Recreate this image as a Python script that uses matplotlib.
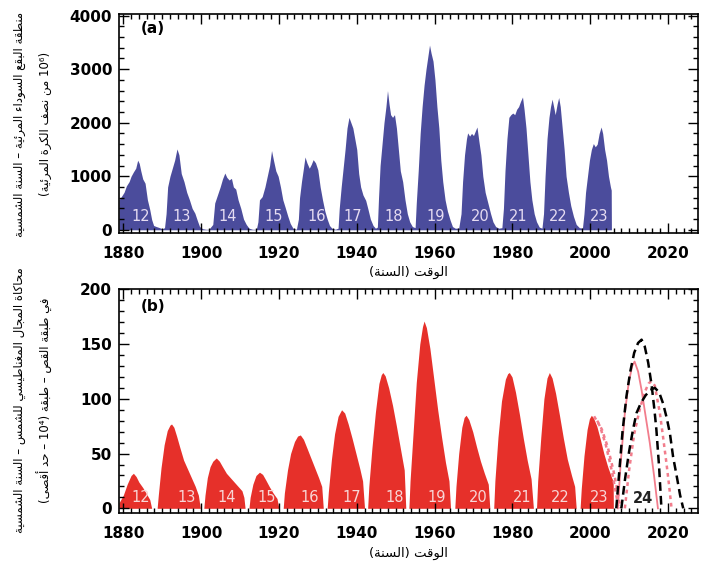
# منحنيات الدورة الشمسية (a) و (b)

import re
import unicodedata
import matplotlib
matplotlib.use("Agg")
import matplotlib.pyplot as plt
from matplotlib.ticker import MultipleLocator

# ==============================
# DATOS
# ==============================
# (a) área de manchas por rotación
year_a = [1878.9, 1879.5, 1880.2, 1880.8, 1881.5, 1882.0, 1882.6, 1883.2, 1883.7, 1884.1, 1884.5, 1885.0, 1885.6,
          1886.2, 1886.8, 1887.3, 1887.8, 1888.5, 1889.3, 1890.0, 1890.6,
          1891.0, 1891.4, 1892.0, 1892.6, 1893.2, 1893.8, 1894.3, 1894.9, 1895.6, 1896.3, 1897.0, 1897.7, 1898.4,
          1899.0, 1899.6, 1900.4, 1901.2, 1902.0,
          1903.0, 1903.5, 1904.2, 1904.9, 1905.5, 1906.1, 1906.6, 1907.2, 1907.8, 1908.3, 1908.9, 1909.5, 1910.2,
          1910.9, 1911.6, 1912.3, 1913.2, 1914.2,
          1914.6, 1915.0, 1915.7, 1916.4, 1917.0, 1917.6, 1918.1, 1918.6, 1919.2, 1919.8, 1920.4, 1921.0, 1921.6,
          1922.3, 1922.9, 1923.6, 1924.5,
          1925.0, 1925.3, 1925.8, 1926.3, 1926.7, 1927.2, 1927.8, 1928.3, 1928.8, 1929.4, 1930.0, 1930.6, 1931.2,
          1931.8, 1932.4, 1933.0, 1933.6, 1934.5, 1935.2,
          1935.5, 1936.0, 1936.5, 1937.0, 1937.5, 1938.0, 1938.5, 1939.0, 1939.5, 1940.0, 1940.5, 1941.0, 1941.6,
          1942.3, 1942.9, 1943.5, 1944.2, 1944.8, 1945.3,
          1945.6, 1946.0, 1946.5, 1947.0, 1947.5, 1947.9, 1948.3, 1948.7, 1949.2, 1949.7, 1950.2, 1950.7, 1951.2,
          1951.8, 1952.4, 1953.0, 1953.6, 1954.3, 1955.0,
          1955.3, 1955.8, 1956.3, 1956.8, 1957.3, 1957.8, 1958.3, 1958.7, 1959.1, 1959.6, 1960.1, 1960.6, 1961.1,
          1961.6, 1962.1, 1962.7, 1963.3, 1964.0, 1964.6, 1965.3, 1966.2,
          1966.8, 1967.2, 1967.7, 1968.2, 1968.5, 1969.0, 1969.5, 1970.0, 1970.5, 1970.9, 1971.4, 1971.9, 1972.4,
          1973.0, 1973.7, 1974.4, 1975.0, 1975.7, 1976.5, 1977.3,
          1977.7, 1978.1, 1978.6, 1979.1, 1979.6, 1980.1, 1980.6, 1981.1, 1981.6, 1982.1, 1982.6, 1983.0, 1983.5,
          1984.0, 1984.5, 1985.0, 1985.6, 1986.2, 1986.9, 1987.6,
          1988.0, 1988.4, 1988.9, 1989.4, 1989.8, 1990.2, 1990.6, 1991.0, 1991.5, 1991.9, 1992.3, 1992.8, 1993.3,
          1993.8, 1994.4, 1995.0, 1995.7, 1996.4, 1997.2, 1998.0,
          1998.4, 1998.8, 1999.3, 1999.8, 2000.3, 2000.8, 2001.3, 2001.8, 2002.3, 2002.8, 2003.2, 2003.7, 2004.2,
          2004.7, 2005.2, 2005.4, 2005.45]
area_a = [560, 620, 700, 820, 900, 1000, 1080, 1150, 1300, 1240, 1100, 950, 870,
          560, 380, 190, 80, 60, 40, 20, 40,
          300, 800, 1000, 1150, 1300, 1510, 1400, 1050, 900, 700, 560, 400, 310,
          180, 60, 20, 10, 10,
          100, 500, 650, 800, 950, 1060, 980, 930, 960, 800, 760, 560, 400,
          200, 100, 30, 10, 10,
          150, 560, 620, 800, 1000, 1200, 1480, 1300, 1100, 1000, 800, 560, 420,
          250, 120, 30, 10,
          200, 600, 900, 1150, 1360, 1250, 1150, 1220, 1310, 1250, 1120, 800, 560,
          350, 200, 80, 30, 10, 30,
          400, 800, 1150, 1500, 1900, 2100, 2000, 1900, 1700, 1500, 1050, 800, 650,
          550, 380, 200, 80, 30, 50,
          600, 1200, 1600, 2000, 2300, 2600, 2350, 2150, 2100, 2150, 1900, 1500, 1100,
          900, 560, 300, 150, 60, 40,
          500, 1100, 1800, 2300, 2700, 3000, 3250, 3450, 3300, 3150, 2800, 2300, 1900,
          1300, 900, 560, 350, 180, 60, 30, 30,
          300, 900, 1400, 1700, 1810, 1750, 1800, 1760, 1850, 1920, 1650, 1400, 1000,
          700, 500, 300, 150, 60, 30, 40,
          400, 1100, 1700, 2100, 2150, 2180, 2150, 2250, 2300, 2400, 2480, 2250, 1900,
          1400, 900, 560, 300, 150, 50, 30,
          300, 1000, 1700, 2100, 2300, 2440, 2300, 2150, 2350, 2470, 2300, 1900, 1500,
          1000, 700, 450, 250, 100, 40, 30,
          300, 700, 1000, 1300, 1500, 1610, 1550, 1600, 1800, 1920, 1800, 1500, 1300,
          1000, 800, 740, 0]

# (b) محاكاة المجال المغناطيسي
year_b = [1878.9, 1880.0, 1881.0, 1882.0, 1882.6, 1883.3, 1884.0, 1885.0, 1886.0, 1886.8, 1887.3,
          1888.7, 1889.0, 1889.7, 1890.5, 1891.3, 1892.0, 1892.4, 1893.0, 1893.7, 1894.5, 1895.5, 1896.5,
          1897.5, 1898.5, 1899.3, 1899.8,
          1900.7, 1901.0, 1901.6, 1902.3, 1903.0, 1903.9, 1904.7, 1905.5, 1906.5, 1907.5, 1908.5, 1909.5,
          1910.5, 1911.0, 1911.3,
          1912.3, 1912.6, 1913.3, 1914.1, 1915.0, 1915.8, 1916.6, 1917.5, 1918.5, 1919.5, 1920.0,
          1921.1, 1921.4, 1922.2, 1923.0, 1924.0, 1924.8, 1925.5, 1926.3, 1927.2, 1928.2, 1929.2, 1930.2,
          1931.0, 1931.4,
          1932.4, 1932.7, 1933.5, 1934.3, 1935.2, 1936.1, 1936.9, 1937.8, 1938.8, 1939.8, 1940.8, 1941.5, 1942.0,
          1942.8, 1943.1, 1943.9, 1944.8, 1945.7, 1946.3, 1946.7, 1947.3, 1948.2, 1949.2, 1950.2, 1951.2,
          1952.2, 1952.6,
          1953.4, 1953.7, 1954.5, 1955.3, 1956.2, 1956.9, 1957.3, 1957.9, 1958.8, 1959.8, 1960.8, 1961.8,
          1962.8, 1963.7, 1964.1,
          1965.2, 1965.5, 1966.2, 1967.0, 1967.6, 1968.1, 1968.8, 1969.8, 1970.8, 1971.8, 1972.8, 1973.8, 1974.2,
          1975.2, 1975.5, 1976.3, 1977.2, 1978.2, 1978.8, 1979.2, 1979.9, 1980.8, 1981.8, 1982.8, 1983.8,
          1984.8, 1985.4,
          1986.2, 1986.5, 1987.3, 1988.1, 1988.9, 1989.5, 1990.2, 1991.1, 1992.1, 1993.1, 1994.1, 1995.2,
          1996.0, 1996.4,
          1997.4, 1997.7, 1998.4, 1999.2, 1999.8, 2000.3, 2000.9, 2001.7, 2002.6, 2003.5, 2004.5, 2005.5,
          2005.9, 2005.95]
field_b = [5, 12, 22, 30, 32, 29, 24, 19, 13, 8, 0,
           0, 12, 37, 58, 71, 76, 77, 74, 66, 56, 44, 36,
           28, 20, 12, 0,
           0, 12, 28, 38, 43, 46, 43, 38, 32, 28, 24, 20,
           16, 10, 0,
           0, 10, 22, 30, 33, 31, 26, 20, 14, 9, 0,
           0, 14, 35, 50, 61, 66, 67, 63, 55, 46, 37, 28,
           20, 0,
           0, 15, 45, 68, 84, 90, 87, 77, 64, 50, 36, 25, 0,
           0, 20, 55, 88, 114, 122, 124, 121, 110, 94, 75, 55,
           35, 0,
           0, 25, 70, 115, 150, 166, 171, 165, 146, 118, 90, 65,
           42, 25, 0,
           0, 20, 50, 74, 83, 85, 81, 70, 56, 43, 32, 22, 0,
           0, 25, 65, 98, 118, 123, 124, 120, 106, 86, 64, 44,
           27, 0,
           0, 25, 65, 100, 119, 124, 119, 105, 85, 64, 45, 30,
           20, 0,
           0, 18, 48, 72, 82, 85, 82, 75, 63, 50, 38, 28,
           25, 0]

# توقعات الدورة 24
pred_k1_yr = [2006.7, 2007.5, 2008.3, 2009.3, 2010.3, 2011.3, 2012.3, 2013.2, 2014.0, 2014.9, 2015.8, 2016.5,
              2017.0, 2017.7, 2018.3]
pred_k1_val = [0, 35, 70, 102, 125, 142, 151, 154, 148, 133, 112, 90, 72, 38, 0]
pred_k2_yr = [2008.0, 2009.0, 2010.0, 2011.0, 2011.9, 2013.0, 2014.2, 2015.4, 2016.6, 2017.7, 2018.7, 2019.7,
              2020.5, 2021.3, 2022.3, 2023.1, 2023.9]
pred_k2_val = [0, 28, 52, 72, 87, 96, 103, 108, 110, 106, 96, 82, 68, 47, 28, 12, 0]
pred_p1_yr = [2007.1, 2007.8, 2008.9, 2009.9, 2010.8, 2011.4, 2012.3, 2013.2, 2014.2, 2015.3, 2016.4, 2017.4]
pred_p1_val = [0, 40, 87, 115, 130, 134, 125, 108, 85, 60, 30, 0]
pred_p2_yr = [2008.9, 2010.0, 2011.3, 2012.7, 2014.0, 2015.0, 2015.7, 2016.6, 2017.9, 2018.8, 2019.6,
              2020.3, 2020.9]
pred_p2_val = [0, 35, 68, 90, 106, 114, 116, 112, 87, 63, 41, 20, 0]
tail_1_yr = [2001.0, 2002.5, 2004.0, 2005.5, 2006.5, 2007.3]
tail_1_val = [84, 75, 58, 35, 16, 0]
tail_2_yr = [2001.8, 2003.0, 2004.5, 2006.0, 2007.0, 2007.8]
tail_2_val = [80, 72, 56, 34, 16, 0]

# أرقام الدورات
cycles = ["12", "13", "14", "15", "16", "17", "18", "19", "20", "21", "22", "23"]
cyc_x_a = [1884.6, 1894.9, 1906.8, 1918.7, 1929.8, 1939.0, 1949.5, 1960.3, 1971.8, 1981.6, 1991.9, 2002.3]
cyc_x_b = [1884.6, 1896.2, 1906.5, 1916.8, 1928.0, 1938.8, 1949.7, 1960.5, 1971.3, 1982.6, 1992.4, 2002.3]

# ==============================
# نص عربي (تشكيل يدوي)
# ==============================
DUAL = {0x0628: 0xFE8F, 0x062A: 0xFE95, 0x062B: 0xFE99, 0x062C: 0xFE9D, 0x062D: 0xFEA1, 0x062E: 0xFEA5,
        0x0633: 0xFEB1, 0x0634: 0xFEB5, 0x0635: 0xFEB9, 0x0636: 0xFEBD, 0x0637: 0xFEC1, 0x0638: 0xFEC5,
        0x0639: 0xFEC9, 0x063A: 0xFECD, 0x0641: 0xFED1, 0x0642: 0xFED5, 0x0643: 0xFED9, 0x0644: 0xFEDD,
        0x0645: 0xFEE1, 0x0646: 0xFEE5, 0x0647: 0xFEE9, 0x064A: 0xFEF1, 0x0626: 0xFE89}
RIGHT = {0x0627: 0xFE8D, 0x0623: 0xFE83, 0x0625: 0xFE87, 0x0622: 0xFE81, 0x0629: 0xFE93, 0x062F: 0xFEA9,
         0x0630: 0xFEAB, 0x0631: 0xFEAD, 0x0632: 0xFEAF, 0x0648: 0xFEED, 0x0649: 0xFEEF, 0x0624: 0xFE85}
LAM_ALEF = {0x0627: 0xFEFB, 0x0623: 0xFEF7, 0x0625: 0xFEF9, 0x0622: 0xFEF5}
MIRROR = {"(": ")", ")": "("}


def shape(s):
    s = unicodedata.normalize("NFC", s)
    out = []
    i = 0
    while i < len(s):
        c = ord(s[i])
        prev_j = i > 0 and ord(s[i - 1]) in DUAL
        if c == 0x0644 and i + 1 < len(s) and ord(s[i + 1]) in LAM_ALEF:
            out.append(chr(LAM_ALEF[ord(s[i + 1])] + (1 if prev_j else 0)))
            i += 2
            continue
        next_j = i + 1 < len(s) and (ord(s[i + 1]) in DUAL or ord(s[i + 1]) in RIGHT)
        if c in DUAL:
            b = DUAL[c]
            out.append(chr(b + (3 if prev_j and next_j else 1 if prev_j else 2 if next_j else 0)))
        elif c in RIGHT:
            out.append(chr(RIGHT[c] + (1 if prev_j else 0)))
        else:
            out.append(s[i])
        i += 1
    return "".join(out)


def ar(s):
    runs = re.findall(r"[0-9\u2070-\u2079]+|[^0-9\u2070-\u2079]+", shape(s))
    parts = []
    for r in runs[::-1]:
        if re.match(r"[0-9\u2070-\u2079]", r):
            parts.append(r)
        else:
            parts.append("".join(MIRROR.get(ch, ch) for ch in r[::-1]))
    return "".join(parts)


ylab_a1 = "منطقة البقع السوداء المرئية – السنة الشمسية"
ylab_a2 = "(10⁶ من نصف الكرة المرئية)"
ylab_b1 = "محاكاة المجال المغناطيسي للشمس – السنة الشمسية"
ylab_b2 = "في طبقة القص – طبقة (10⁴ – حد أقصى)"
xlab = "الوقت (السنة)"

# ==============================
# FIGURA
# ==============================
BLUE = "#4b4c9c"
RED = "#e6302a"
PINK = "#f27d8c"

fig = plt.figure(figsize=(7.01, 5.71), dpi=100)
ax_a = fig.add_axes([119 / 701, 1 - 233 / 571, 579 / 701, 219 / 571])
ax_b = fig.add_axes([119 / 701, 1 - 512.7 / 571, 579 / 701, 223.4 / 571])

ax_a.fill_between(year_a, 0, area_a, color=BLUE, lw=0)
ax_a.set_ylim(-60, 4030)
ax_a.yaxis.set_major_locator(MultipleLocator(1000))
ax_a.yaxis.set_minor_locator(MultipleLocator(200))
for lab, x in zip(cycles, cyc_x_a):
    ax_a.text(x, 250, lab, color="#e6dcf2", fontsize=10.5, ha="center", va="center")
ax_a.text(0.059, 0.935, "(a)", transform=ax_a.transAxes, fontsize=11, fontweight="bold",
          ha="center", va="center")

ax_b.fill_between(year_b, 0, field_b, color=RED, lw=0)
ax_b.plot(tail_1_yr, tail_1_val, color=PINK, lw=1.8, ls=(0, (1.5, 1.5)))
ax_b.plot(tail_2_yr, tail_2_val, color=PINK, lw=1.8, ls=(0, (1.5, 1.5)))
ax_b.plot(pred_p1_yr, pred_p1_val, color=PINK, lw=1.3)
ax_b.plot(pred_p2_yr, pred_p2_val, color=PINK, lw=1.8, ls=(0, (1.5, 1.5)))
ax_b.plot(pred_k1_yr, pred_k1_val, color="black", lw=1.8, ls=(0, (3.5, 2)))
ax_b.plot(pred_k2_yr, pred_k2_val, color="black", lw=1.8, ls=(0, (3.5, 2)))
ax_b.set_ylim(-4, 200)
ax_b.yaxis.set_major_locator(MultipleLocator(50))
ax_b.yaxis.set_minor_locator(MultipleLocator(10))
for lab, x in zip(cycles, cyc_x_b):
    ax_b.text(x, 10, lab, color="#f8d6d6", fontsize=10.5, ha="center", va="center")
ax_b.text(2013.6, 9, "24", color="#222222", fontsize=10.5, fontweight="bold", ha="center", va="center")
ax_b.text(0.059, 0.925, "(b)", transform=ax_b.transAxes, fontsize=11, fontweight="bold",
          ha="center", va="center")

for ax in (ax_a, ax_b):
    ax.set_xlim(1878.9, 2027.7)
    ax.xaxis.set_major_locator(MultipleLocator(20))
    ax.xaxis.set_minor_locator(MultipleLocator(2))
    ax.tick_params(which="both", direction="in", top=True, right=True, width=1)
    ax.tick_params(which="major", length=7)
    ax.tick_params(which="minor", length=3.5)
    ax.tick_params(axis="x", pad=9.5, labelsize=11)
    ax.tick_params(axis="y", pad=5, labelsize=11)
    for t in ax.get_xticklabels() + ax.get_yticklabels():
        t.set_fontweight("bold")
    for s in ax.spines.values():
        s.set_linewidth(1.2)

# etiquetas de ejes
fig.text(408 / 701, 1 - 272 / 571, ar(xlab), fontsize=9.5, ha="center", va="center", family="DejaVu Sans")
fig.text(408 / 701, 1 - 553 / 571, ar(xlab), fontsize=9.5, ha="center", va="center", family="DejaVu Sans")
fig.text(20 / 701, 1 - 124 / 571, ar(ylab_a1), fontsize=8.5, rotation=90, ha="center", va="center",
         family="DejaVu Sans")
fig.text(45 / 701, 1 - 124 / 571, ar(ylab_a2), fontsize=8.5, rotation=90, ha="center", va="center",
         family="DejaVu Sans")
fig.text(20 / 701, 1 - 400 / 571, ar(ylab_b1), fontsize=8.5, rotation=90, ha="center", va="center",
         family="DejaVu Sans")
fig.text(45 / 701, 1 - 400 / 571, ar(ylab_b2), fontsize=8.5, rotation=90, ha="center", va="center",
         family="DejaVu Sans")

fig.savefig("out.png", dpi=100)
print("listo: out.png")
